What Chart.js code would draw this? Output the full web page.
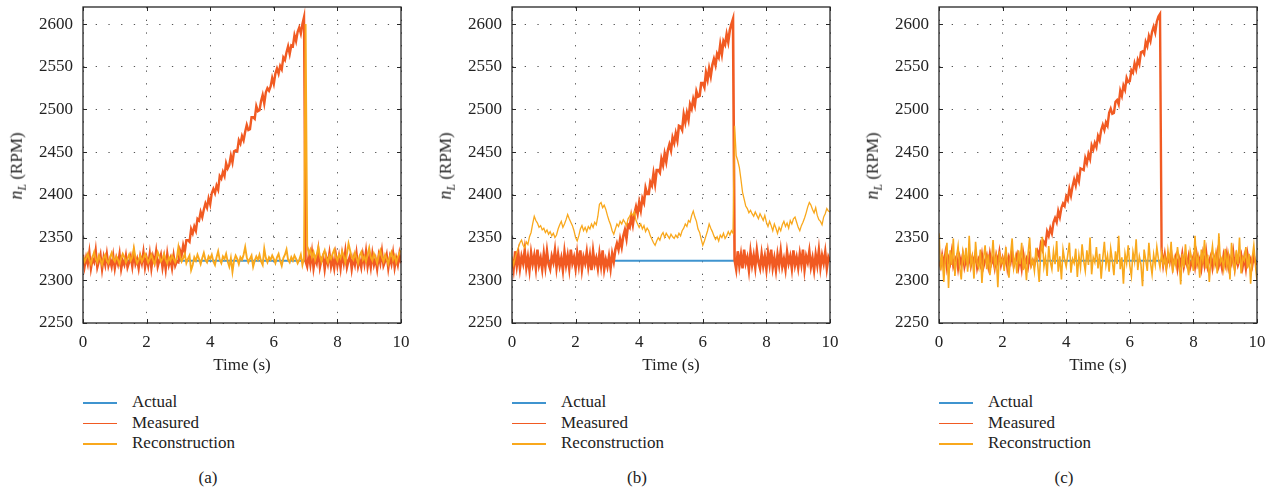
<!DOCTYPE html>
<html>
<head>
<meta charset="utf-8">
<script src="https://cdn.jsdelivr.net/npm/chart.js@4.4.1/dist/chart.umd.min.js"></script>
<style>
  html, body { margin: 0; padding: 0; background: #fff; }
  #wrap { position: relative; width: 1275px; height: 491px; overflow: hidden; font-family: 'Liberation Serif', 'DejaVu Serif', serif; color: #222; }
  canvas { position: absolute; top: 0; }
  .ytitle { position: absolute; font-size: 17px; white-space: nowrap; transform: translate(-50%, -50%) rotate(-90deg); }
  .ytitle i { font-size: 18px; }
  .ytitle sub { font-size: 12px; font-style: italic; }
  .leg { position: absolute; font-size: 17px; white-space: nowrap; }
  .leg .row { position: relative; height: 20.5px; line-height: 20.5px; }
  .leg .ln { position: absolute; left: 0; top: 10px; width: 34px; height: 1.6px; }
  .leg .tx { position: absolute; left: 49px; top: 0; }
  .cap { position: absolute; font-size: 17px; transform: translate(-50%, -50%); }
</style>
</head>
<body>
<div id="wrap">
  <canvas id="cA" width="420" height="380" style="left:0px"></canvas>
  <canvas id="cB" width="420" height="380" style="left:428px"></canvas>
  <canvas id="cC" width="420" height="380" style="left:855px"></canvas>
</div>
<script>
// ---------------- data ----------------
const panelLabels = ['(a)', '(b)', '(c)'];
const seriesNames = ['Actual', 'Measured', 'Reconstruction'];
const xTickValues = [0, 2, 4, 6, 8, 10];
const yTickValues = [2250, 2300, 2350, 2400, 2450, 2500, 2550, 2600];

const actualTime = [0, 10];
const actualRpm = [2323, 2323];

const timeS = [
0,0.05,0.1,0.15,0.2,0.25,0.3,0.35,0.4,0.45,0.5,0.55,0.6,0.65,0.7,0.75,0.8,0.85,0.9,0.95,
1,1.05,1.1,1.15,1.2,1.25,1.3,1.35,1.4,1.45,1.5,1.55,1.6,1.65,1.7,1.75,1.8,1.85,1.9,1.95,
2,2.05,2.1,2.15,2.2,2.25,2.3,2.35,2.4,2.45,2.5,2.55,2.6,2.65,2.7,2.75,2.8,2.85,2.9,2.95,
3,3.05,3.1,3.15,3.2,3.25,3.3,3.35,3.4,3.45,3.5,3.55,3.6,3.65,3.7,3.75,3.8,3.85,3.9,3.95,
4,4.05,4.1,4.15,4.2,4.25,4.3,4.35,4.4,4.45,4.5,4.55,4.6,4.65,4.7,4.75,4.8,4.85,4.9,4.95,
5,5.05,5.1,5.15,5.2,5.25,5.3,5.35,5.4,5.45,5.5,5.55,5.6,5.65,5.7,5.75,5.8,5.85,5.9,5.95,
6,6.05,6.1,6.15,6.2,6.25,6.3,6.35,6.4,6.45,6.5,6.55,6.6,6.65,6.7,6.75,6.8,6.85,6.9,6.95,
7,7.05,7.1,7.15,7.2,7.25,7.3,7.35,7.4,7.45,7.5,7.55,7.6,7.65,7.7,7.75,7.8,7.85,7.9,7.95,
8,8.05,8.1,8.15,8.2,8.25,8.3,8.35,8.4,8.45,8.5,8.55,8.6,8.65,8.7,8.75,8.8,8.85,8.9,8.95,
9,9.05,9.1,9.15,9.2,9.25,9.3,9.35,9.4,9.45,9.5,9.55,9.6,9.65,9.7,9.75,9.8,9.85,9.9,9.95,
10];

// panel (a)
const measuredA = [
2330,2316,2327,2319,2333,2314,2325,2321,2335,2315,2322,2330,2313,2327,2318,2331,2317,2324,2316,2329,
2314,2326,2319,2331,2313,2323,2318,2329,2315,2321,2328,2316,2332,2319,2325,2314,2328,2320,2333,2315,
2326,2317,2331,2314,2328,2321,2334,2316,2323,2330,2315,2327,2313,2331,2318,2325,2314,2329,2317,2322,
2321,2335,2329,2341,2333,2347,2347,2345,2360,2355,2363,2358,2372,2370,2380,2374,2383,2390,2385,2396,
2389,2402,2407,2402,2411,2406,2422,2419,2427,2422,2437,2431,2435,2446,2438,2451,2452,2451,2464,2460,
2469,2464,2474,2482,2476,2477,2491,2491,2489,2504,2498,2499,2510,2517,2507,2520,2525,2522,2527,2537,
2530,2542,2548,2542,2551,2547,2561,2558,2567,2574,2565,2575,2574,2587,2580,2591,2596,2589,2600,2608,
2322,2316,2330,2318,2333,2314,2326,2320,2335,2315,2324,2329,2313,2327,2319,2332,2316,2325,2314,2330,
2317,2328,2314,2331,2320,2334,2315,2323,2329,2313,2326,2318,2332,2316,2324,2315,2330,2319,2334,2316,
2327,2315,2331,2318,2325,2313,2329,2320,2334,2317,2322,2330,2314,2327,2319,2332,2315,2326,2318,2331,
2320];
const reconA = [
2328,2322,2326,2331,2324,2319,2327,2333,2325,2321,2329,2324,2318,2326,2330,2323,2320,2327,2332,2325,
2322,2328,2324,2319,2326,2331,2327,2321,2325,2330,2323,2327,2338,2326,2320,2324,2329,2322,2326,2331,
2327,2321,2325,2330,2324,2319,2326,2333,2328,2322,2325,2331,2324,2320,2327,2323,2329,2325,2321,2326,
2339,2328,2322,2326,2331,2320,2325,2329,2312,2318,2327,2323,2330,2325,2319,2326,2332,2324,2321,2328,
2325,2330,2322,2318,2327,2334,2324,2320,2328,2325,2331,2322,2316,2326,2310,2323,2329,2325,2319,2327,
2324,2330,2339,2327,2321,2325,2329,2316,2323,2328,2324,2330,2322,2318,2337,2326,2321,2327,2324,2329,
2325,2320,2327,2331,2323,2317,2326,2330,2336,2324,2321,2327,2323,2329,2325,2320,2324,2330,2318,2326,
2600,2340,2331,2336,2327,2333,2324,2330,2339,2328,2322,2330,2335,2326,2321,2329,2325,2331,2336,2327,
2323,2330,2326,2334,2328,2321,2331,2343,2335,2327,2324,2332,2326,2320,2329,2333,2324,2328,2322,2330,
2338,2327,2323,2331,2326,2320,2329,2335,2327,2322,2330,2325,2319,2328,2333,2324,2329,2321,2327,2332,
2335];

// panel (b)
const measuredB = [
2325,2313,2334,2317,2331,2314,2328,2320,2335,2315,2327,2312,2332,2319,2329,2314,2336,2318,2326,2313,
2331,2316,2334,2319,2313,2328,2321,2335,2315,2330,2317,2326,2312,2333,2318,2329,2314,2336,2320,2327,
2314,2332,2318,2335,2313,2327,2320,2333,2316,2329,2312,2334,2319,2326,2314,2331,2317,2335,2313,2324,
2316,2328,2314,2331,2322,2336,2343,2336,2348,2339,2352,2359,2349,2365,2362,2375,2365,2378,2386,2378,
2391,2382,2396,2391,2408,2401,2401,2415,2411,2425,2413,2429,2429,2426,2442,2435,2448,2439,2452,2459,
2452,2467,2461,2472,2464,2481,2480,2476,2494,2485,2496,2488,2506,2501,2512,2505,2521,2515,2516,2531,
2531,2526,2543,2535,2548,2539,2552,2559,2552,2565,2561,2576,2565,2580,2576,2588,2579,2593,2600,2606,
2324,2313,2334,2317,2330,2314,2336,2320,2327,2312,2333,2318,2329,2315,2335,2321,2314,2331,2317,2328,
2313,2332,2319,2336,2315,2326,2312,2330,2318,2334,2316,2325,2313,2333,2320,2328,2314,2335,2318,2327,
2315,2331,2319,2336,2313,2328,2321,2334,2316,2326,2312,2330,2318,2335,2315,2329,2320,2333,2314,2327,
2322];
const reconB = [
2328,2318,2326,2333,2338,2344,2347,2341,2338,2345,2342,2351,2356,2366,2375,2370,2367,2362,2364,2359,
2361,2356,2359,2354,2357,2352,2355,2350,2353,2360,2365,2369,2362,2366,2371,2377,2372,2368,2364,2358,
2350,2346,2352,2360,2364,2358,2362,2357,2363,2360,2366,2362,2368,2365,2375,2389,2391,2385,2388,2383,
2376,2370,2365,2358,2354,2360,2366,2363,2369,2366,2371,2368,2364,2372,2375,2379,2376,2380,2370,2366,
2362,2366,2360,2364,2357,2361,2358,2352,2348,2344,2341,2346,2350,2347,2353,2356,2350,2355,2352,2349,
2354,2351,2349,2353,2350,2355,2352,2358,2361,2366,2363,2370,2368,2376,2381,2374,2369,2360,2356,2348,
2341,2346,2352,2358,2366,2361,2357,2352,2348,2351,2346,2353,2350,2355,2349,2352,2357,2353,2358,2355,
2481,2446,2440,2432,2418,2403,2395,2387,2384,2379,2382,2378,2375,2380,2376,2372,2378,2374,2370,2376,
2368,2363,2369,2364,2358,2366,2361,2355,2362,2358,2365,2369,2363,2367,2361,2370,2366,2372,2374,2368,
2362,2358,2364,2368,2373,2379,2386,2391,2388,2383,2379,2385,2376,2371,2369,2365,2374,2378,2384,2381,
2380];

// panel (c)
const measuredC = [
2322,2316,2329,2318,2331,2315,2326,2320,2333,2317,2324,2328,2314,2327,2319,2330,2316,2325,2318,2329,
2317,2327,2320,2332,2315,2324,2318,2330,2316,2323,2329,2317,2331,2320,2326,2315,2329,2321,2333,2318,
2326,2318,2331,2315,2327,2321,2333,2317,2324,2330,2316,2327,2314,2331,2319,2325,2316,2328,2318,2323,
2318,2327,2334,2328,2342,2336,2345,2342,2357,2352,2361,2355,2368,2373,2368,2381,2374,2385,2390,2387,
2398,2394,2407,2399,2410,2418,2411,2422,2416,2431,2430,2429,2443,2437,2448,2442,2458,2453,2461,2456,
2469,2464,2476,2482,2476,2485,2481,2496,2501,2495,2496,2509,2511,2506,2522,2516,2528,2523,2537,2532,
2533,2546,2543,2554,2547,2558,2553,2567,2568,2565,2579,2574,2586,2580,2591,2597,2590,2603,2609,2612,
2335,2318,2330,2316,2327,2321,2333,2315,2324,2329,2314,2326,2319,2331,2316,2325,2318,2328,2315,2322,
2328,2316,2331,2319,2325,2314,2330,2318,2333,2316,2323,2329,2315,2327,2320,2332,2317,2324,2314,2329,
2319,2331,2316,2326,2320,2333,2315,2328,2318,2324,2330,2316,2327,2314,2331,2320,2325,2317,2329,2321,
2318];
const reconC = [
2355,2312,2331,2298,2326,2344,2291,2335,2318,2349,2305,2327,2340,2316,2301,2333,2322,2338,2310,2352,
2318,2328,2302,2345,2320,2314,2336,2297,2325,2341,2313,2330,2306,2322,2347,2317,2328,2292,2334,2320,
2326,2311,2339,2322,2303,2330,2349,2315,2327,2308,2335,2319,2344,2312,2326,2300,2331,2350,2317,2324,
2311,2338,2320,2298,2332,2351,2316,2327,2305,2340,2322,2313,2334,2319,2346,2310,2328,2301,2336,2324,
2316,2330,2344,2309,2325,2320,2337,2304,2329,2315,2342,2323,2311,2335,2318,2350,2307,2327,2321,2339,
2314,2331,2302,2326,2345,2318,2329,2310,2337,2323,2306,2334,2319,2352,2313,2327,2296,2331,2320,2341,
2317,2305,2333,2322,2348,2312,2328,2319,2293,2336,2324,2311,2344,2321,2307,2330,2318,2339,2325,2315,
2332,2318,2327,2312,2335,2321,2345,2309,2326,2317,2339,2323,2295,2331,2315,2342,2320,2306,2334,2325,
2311,2352,2319,2328,2303,2336,2322,2347,2314,2330,2298,2325,2340,2318,2331,2308,2355,2321,2326,2313,
2337,2316,2329,2301,2344,2322,2311,2335,2319,2350,2308,2327,2323,2339,2314,2331,2296,2326,2341,2318,
2300];

// ---------------- styling ----------------
const BLUE = '#3f94cf';
const RED = '#f15a22';
const YEL = '#f9a81c';
const FONT = "'Liberation Serif', 'DejaVu Serif', serif";
const TXT = '#222';

[measuredA, reconA, measuredB, reconB, measuredC, reconC].forEach((a, i) => {
  if (a.length !== timeS.length) throw new Error('length mismatch in series ' + i + ': ' + a.length);
});

function toPoints(xs, ys) { return xs.map((x, i) => ({ x: x, y: ys[i] })); }

const framePlugin = {
  id: 'frame',
  afterDatasetsDraw(chart) {
    const { ctx, chartArea: a, scales } = chart;
    const x = scales.x, y = scales.y;
    ctx.save();
    ctx.strokeStyle = '#262626';
    ctx.lineWidth = 1.3;
    ctx.strokeRect(a.left, a.top, a.right - a.left, a.bottom - a.top);
    ctx.lineWidth = 1;
    const L = 4;
    ctx.beginPath();
    xTickValues.forEach(v => {
      const px = Math.round(x.getPixelForValue(v)) + 0.5;
      ctx.moveTo(px, a.bottom); ctx.lineTo(px, a.bottom - L);
      ctx.moveTo(px, a.top); ctx.lineTo(px, a.top + L);
    });
    yTickValues.forEach(v => {
      const py = Math.round(y.getPixelForValue(v)) + 0.5;
      ctx.moveTo(a.left, py); ctx.lineTo(a.left + L, py);
      ctx.moveTo(a.right, py); ctx.lineTo(a.right - L, py);
    });
    ctx.stroke();
    ctx.restore();
  }
};

function makePanel(id, measured, recon, measWidth, reconWidth, yWidth, padRight) {
  return new Chart(document.getElementById(id), {
    type: 'line',
    data: {
      datasets: [
        { label: seriesNames[0], data: toPoints(actualTime, actualRpm), borderColor: BLUE, borderWidth: 2, order: 3 },
        { label: seriesNames[1], data: toPoints(timeS, measured), borderColor: RED, borderWidth: measWidth, order: 2 },
        { label: seriesNames[2], data: toPoints(timeS, recon), borderColor: YEL, borderWidth: reconWidth, order: 1 }
      ]
    },
    options: {
      responsive: false,
      animation: false,
      events: [],
      elements: { point: { radius: 0 }, line: { tension: 0, fill: false } },
      plugins: { legend: { display: false }, tooltip: { enabled: false }, title: { display: false } },
      layout: { padding: { top: 7, right: padRight, left: 0, bottom: 0 } },
      scales: {
        x: {
          type: 'linear', min: 0, max: 10,
          afterBuildTicks: s => { s.ticks = xTickValues.map(v => ({ value: v })); },
          afterFit: s => { s.height = 57; s.paddingLeft = 0; s.paddingRight = 0; },
          ticks: { padding: 9, color: TXT, font: { family: FONT, size: 17 }, maxRotation: 0, callback: v => String(v) },
          grid: { drawTicks: false, color: '#555', lineWidth: 1 },
          border: { display: false, dash: [1.3, 11.4] },
          title: { display: true, text: 'Time (s)', color: TXT, font: { family: FONT, size: 17 }, padding: { top: 0, bottom: 4 } }
        },
        y: {
          type: 'linear', min: 2250, max: 2620,
          afterBuildTicks: s => { s.ticks = yTickValues.map(v => ({ value: v })); },
          afterFit: s => { s.width = yWidth; s.paddingTop = 0; s.paddingBottom = 0; },
          ticks: { padding: 10, color: TXT, font: { family: FONT, size: 17 }, callback: v => String(v) },
          grid: { drawTicks: false, color: '#555', lineWidth: 1 },
          border: { display: false, dash: [1.3, 11.4] }
        }
      }
    },
    plugins: [framePlugin]
  });
}

makePanel('cA', measuredA, reconA, 2.4, 1.9, 83, 19);
makePanel('cB', measuredB, reconB, 2.6, 1.3, 84, 18);
makePanel('cC', measuredC, reconC, 2.4, 1.6, 84, 18);

// ---------------- HTML text: y titles, legends, captions ----------------
const wrap = document.getElementById('wrap');
const plotLefts = [83, 512, 939];
const seriesColors = [BLUE, RED, YEL];
plotLefts.forEach((pl, i) => {
  const yt = document.createElement('div');
  yt.className = 'ytitle';
  yt.style.left = (pl - 65) + 'px';
  yt.style.top = '166px';
  yt.innerHTML = '<i>n</i><sub>L</sub> (RPM)';
  wrap.appendChild(yt);

  const leg = document.createElement('div');
  leg.className = 'leg';
  leg.style.left = pl + 'px';
  leg.style.top = '392px';
  seriesNames.forEach((nm, k) => {
    const row = document.createElement('div');
    row.className = 'row';
    row.innerHTML = '<div class="ln" style="background:' + seriesColors[k] + '"></div><div class="tx">' + nm + '</div>';
    leg.appendChild(row);
  });
  wrap.appendChild(leg);

  const cap = document.createElement('div');
  cap.className = 'cap';
  cap.style.left = (pl + 125) + 'px';
  cap.style.top = '478px';
  cap.textContent = panelLabels[i];
  wrap.appendChild(cap);
});
</script>
</body>
</html>
